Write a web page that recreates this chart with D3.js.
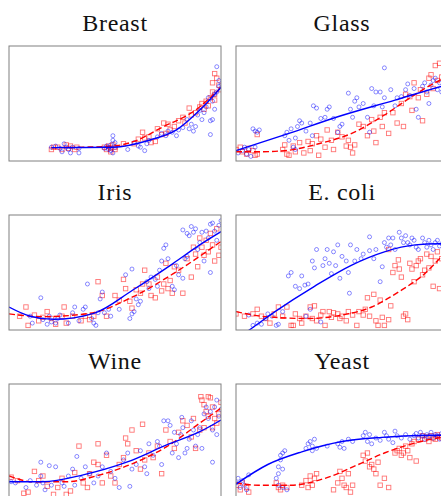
<!DOCTYPE html>
<html><head><meta charset="utf-8">
<script src="https://cdn.jsdelivr.net/npm/d3@7"></script>
<style>html,body{margin:0;padding:0;background:#fff;}svg{display:block;}</style>
</head><body>
<svg id="chart" width="441" height="496"></svg>
<script>
const titles = ["Breast", "Glass", "Iris", "E. coli", "Wine", "Yeast"];

const breastBlue = [[0.20,0.12],[0.22,0.13],[0.25,0.08],[0.26,0.15],[0.27,0.12],[0.28,0.10],[0.29,0.07],[0.30,0.12],[0.33,0.07],[0.33,0.11],[0.24,0.11],
[0.45,0.11],[0.46,0.13],[0.47,0.10],[0.48,0.14],[0.48,0.09],[0.49,0.18],[0.49,0.22],[0.50,0.12],[0.50,0.16],[0.49,0.07],[0.47,0.12],
[0.56,0.10],[0.59,0.16],[0.61,0.13],[0.62,0.12],[0.64,0.09],[0.65,0.15],[0.66,0.18],[0.70,0.21],[0.72,0.24],[0.74,0.22],[0.75,0.26],[0.77,0.25],[0.79,0.22],[0.80,0.27],[0.82,0.29],[0.84,0.36],[0.85,0.28],[0.86,0.32],[0.87,0.26],[0.88,0.30],[0.89,0.40],[0.90,0.44],[0.91,0.36],[0.92,0.42],[0.93,0.47],[0.94,0.55],[0.95,0.35],[0.96,0.52],[0.97,0.58],[0.98,0.60],[0.99,0.70],[0.99,0.65],[1.0,0.66],[0.97,0.45],[0.95,0.23],[0.98,0.82],[0.96,0.36]];
const breastRed = [[0.20,0.10],[0.21,0.12],[0.23,0.12],[0.27,0.14],[0.28,0.11],[0.29,0.13],[0.31,0.10],[0.32,0.12],[0.25,0.10],
[0.45,0.12],[0.46,0.10],[0.47,0.13],[0.48,0.11],[0.49,0.14],[0.50,0.12],[0.50,0.10],[0.48,0.08],
[0.54,0.15],[0.59,0.15],[0.61,0.19],[0.63,0.25],[0.64,0.20],[0.66,0.21],[0.67,0.16],[0.70,0.28],[0.72,0.23],[0.73,0.33],[0.75,0.32],[0.76,0.27],[0.78,0.30],[0.80,0.35],[0.82,0.38],[0.83,0.33],[0.85,0.46],[0.86,0.40],[0.88,0.42],[0.90,0.47],[0.91,0.50],[0.92,0.45],[0.93,0.52],[0.95,0.55],[0.96,0.60],[0.97,0.53],[0.98,0.72],[0.99,0.66],[1.0,0.62],[0.97,0.58],[0.94,0.48],[0.69,0.17],[0.74,0.24],[0.97,0.76],[0.96,0.68]];
const breastBlueFit = [[0.20,0.116],[0.35,0.118],[0.49,0.12],[0.665,0.183],[0.79,0.27],[0.90,0.443],[1.0,0.64]];
const breastRedFit = [[0.20,0.115],[0.35,0.12],[0.49,0.13],[0.586,0.168],[0.73,0.30],[0.87,0.43],[1.0,0.64]];

const glassBlue = [[0.01,0.07],[0.03,0.09],[0.05,0.06],[0.06,0.10],[0.07,0.04],[0.08,0.28],[0.09,0.26],[0.10,0.25],[0.11,0.27],[0.09,0.12],[0.04,0.12],
[0.23,0.22],[0.24,0.25],[0.25,0.18],[0.26,0.28],[0.27,0.12],[0.28,0.10],[0.29,0.30],[0.30,0.35],[0.31,0.33],[0.28,0.20],[0.33,0.26],[0.35,0.33],[0.36,0.22],[0.365,0.48],[0.38,0.46],[0.40,0.37],[0.42,0.38],[0.43,0.45],[0.44,0.47],[0.46,0.37],[0.48,0.25],[0.49,0.30],[0.50,0.32],[0.53,0.59],[0.54,0.45],[0.55,0.38],[0.56,0.52],[0.57,0.55],[0.58,0.47],[0.60,0.50],[0.62,0.38],[0.63,0.25],[0.64,0.63],[0.65,0.48],[0.66,0.60],[0.68,0.60],[0.69,0.47],[0.70,0.81],[0.70,0.55],[0.73,0.62],[0.75,0.48],[0.76,0.55],[0.78,0.56],[0.80,0.62],[0.81,0.67],[0.82,0.57],[0.84,0.63],[0.85,0.45],[0.86,0.38],[0.88,0.65],[0.89,0.68],[0.90,0.60],[0.91,0.50],[0.92,0.66],[0.93,0.70],[0.94,0.72],[0.95,0.62],[0.96,0.68],[0.97,0.60],[0.98,0.70],[0.99,0.66]];
const glassRed = [[0.0,0.10],[0.02,0.12],[0.03,0.08],[0.05,0.06],[0.06,0.11],[0.08,0.09],[0.09,0.05],[0.10,0.06],[0.10,0.23],
[0.22,0.10],[0.23,0.14],[0.24,0.06],[0.25,0.05],[0.27,0.13],[0.28,0.08],[0.30,0.16],[0.32,0.07],[0.34,0.17],[0.35,0.09],[0.36,0.15],[0.38,0.22],[0.39,0.05],[0.40,0.19],[0.42,0.12],[0.43,0.27],[0.45,0.18],[0.46,0.10],[0.48,0.25],[0.50,0.21],[0.52,0.13],[0.53,0.18],[0.54,0.12],[0.55,0.07],[0.56,0.14],[0.58,0.32],[0.60,0.30],[0.62,0.22],[0.64,0.36],[0.65,0.26],[0.66,0.16],[0.68,0.38],[0.69,0.30],[0.70,0.42],[0.72,0.24],[0.74,0.42],[0.76,0.33],[0.78,0.50],[0.79,0.30],[0.80,0.58],[0.82,0.56],[0.83,0.44],[0.84,0.68],[0.86,0.55],[0.87,0.62],[0.88,0.35],[0.90,0.58],[0.91,0.72],[0.92,0.75],[0.93,0.63],[0.94,0.83],[0.95,0.70],[0.96,0.85],[0.97,0.73],[0.98,0.80],[0.99,0.70]];
const glassBlueFit = [[0.0,0.09],[0.25,0.24],[0.48,0.385],[0.75,0.53],[0.97,0.65],[1.0,0.665]];
const glassRedFit = [[0.0,0.08],[0.105,0.08],[0.23,0.09],[0.39,0.15],[0.546,0.24],[0.70,0.40],[0.83,0.56],[0.96,0.70],[1.0,0.73]];

const irisBlue = [[0.10,0.12],[0.11,0.06],[0.15,0.28],[0.16,0.09],[0.18,0.05],[0.19,0.12],[0.20,0.07],[0.22,0.06],[0.23,0.10],[0.24,0.13],[0.28,0.06],[0.30,0.15],[0.31,0.20],[0.33,0.08],[0.35,0.18],[0.36,0.20],[0.37,0.40],[0.39,0.10],[0.40,0.06],[0.41,0.04],[0.42,0.15],[0.43,0.27],[0.44,0.33],[0.45,0.15],[0.47,0.18],[0.48,0.12],[0.52,0.18],[0.55,0.48],[0.57,0.10],[0.58,0.14],[0.59,0.16],[0.58,0.53],[0.60,0.27],[0.61,0.22],[0.62,0.25],[0.65,0.42],[0.66,0.36],[0.67,0.46],[0.69,0.44],[0.70,0.38],[0.71,0.52],[0.72,0.60],[0.73,0.71],[0.74,0.74],[0.75,0.62],[0.77,0.38],[0.78,0.35],[0.79,0.56],[0.80,0.48],[0.82,0.87],[0.84,0.84],[0.82,0.45],[0.83,0.62],[0.84,0.64],[0.85,0.82],[0.86,0.90],[0.87,0.85],[0.88,0.88],[0.89,0.70],[0.90,0.76],[0.92,0.60],[0.93,0.86],[0.94,0.80],[0.95,0.92],[0.96,0.93],[0.97,0.86],[0.98,0.78],[0.99,0.91],[1.0,0.95],[0.95,0.50],[0.91,0.85]];
const irisRed = [[0.05,0.12],[0.08,0.20],[0.09,0.04],[0.12,0.13],[0.14,0.08],[0.16,0.11],[0.18,0.16],[0.20,0.10],[0.22,0.05],[0.25,0.12],[0.26,0.20],[0.27,0.06],[0.30,0.12],[0.34,0.08],[0.36,0.12],[0.38,0.09],[0.40,0.12],[0.42,0.42],[0.44,0.30],[0.46,0.12],[0.50,0.30],[0.52,0.26],[0.54,0.44],[0.55,0.36],[0.57,0.25],[0.58,0.19],[0.60,0.35],[0.62,0.32],[0.63,0.40],[0.64,0.52],[0.66,0.40],[0.67,0.30],[0.69,0.28],[0.70,0.46],[0.72,0.34],[0.73,0.40],[0.74,0.58],[0.75,0.36],[0.76,0.43],[0.77,0.32],[0.78,0.55],[0.80,0.52],[0.82,0.32],[0.84,0.62],[0.86,0.46],[0.87,0.72],[0.88,0.66],[0.89,0.55],[0.90,0.80],[0.91,0.72],[0.92,0.65],[0.93,0.78],[0.94,0.68],[0.95,0.84],[0.96,0.74],[0.97,0.60],[0.98,0.88],[0.99,0.65],[1.0,0.72]];
const irisBlueFit = [[0.0,0.20],[0.10,0.12],[0.21,0.093],[0.40,0.145],[0.586,0.35],[0.775,0.58],[0.90,0.74],[1.0,0.855]];
const irisRedFit = [[0.0,0.14],[0.16,0.116],[0.38,0.145],[0.586,0.29],[0.775,0.49],[1.0,0.77]];

const ecoliBlue = [[0.06,0.13],[0.08,0.04],[0.10,0.06],[0.12,0.05],[0.14,0.10],[0.15,0.14],[0.17,0.12],[0.19,0.04],[0.20,0.05],[0.22,0.16],[0.247,0.47],[0.26,0.50],[0.28,0.38],[0.30,0.36],[0.31,0.47],[0.325,0.39],[0.33,0.12],[0.34,0.40],[0.35,0.18],[0.36,0.60],[0.37,0.54],[0.38,0.70],[0.40,0.07],[0.41,0.56],[0.43,0.70],[0.42,0.62],[0.44,0.58],[0.45,0.49],[0.46,0.68],[0.47,0.56],[0.48,0.74],[0.49,0.45],[0.50,0.64],[0.535,0.32],[0.52,0.60],[0.53,0.50],[0.54,0.74],[0.56,0.60],[0.57,0.70],[0.59,0.62],[0.60,0.66],[0.63,0.81],[0.63,0.69],[0.65,0.62],[0.66,0.70],[0.68,0.42],[0.69,0.55],[0.70,0.76],[0.71,0.72],[0.72,0.80],[0.73,0.74],[0.74,0.80],[0.75,0.70],[0.77,0.85],[0.78,0.80],[0.79,0.76],[0.80,0.82],[0.81,0.76],[0.82,0.74],[0.83,0.80],[0.84,0.78],[0.85,0.72],[0.86,0.70],[0.88,0.80],[0.89,0.76],[0.90,0.72],[0.91,0.78],[0.92,0.74],[0.93,0.70],[0.94,0.76],[0.95,0.78],[0.96,0.73],[0.97,0.75],[0.98,0.72],[0.99,0.77]];
const ecoliRed = [[0.0,0.14],[0.04,0.12],[0.08,0.14],[0.10,0.18],[0.12,0.12],[0.14,0.10],[0.16,0.06],[0.18,0.14],[0.20,0.20],[0.22,0.12],[0.24,0.20],[0.26,0.04],[0.27,0.04],[0.28,0.14],[0.30,0.10],[0.31,0.06],[0.33,0.12],[0.35,0.20],[0.36,0.10],[0.37,0.21],[0.38,0.08],[0.40,0.13],[0.41,0.16],[0.42,0.04],[0.44,0.16],[0.45,0.11],[0.46,0.15],[0.48,0.14],[0.49,0.10],[0.50,0.12],[0.52,0.08],[0.53,0.16],[0.55,0.13],[0.57,0.04],[0.58,0.16],[0.60,0.13],[0.61,0.18],[0.62,0.28],[0.63,0.12],[0.65,0.31],[0.66,0.08],[0.67,0.04],[0.68,0.26],[0.69,0.11],[0.70,0.04],[0.72,0.09],[0.72,0.70],[0.73,0.21],[0.74,0.50],[0.75,0.56],[0.766,0.61],[0.77,0.53],[0.78,0.46],[0.79,0.12],[0.80,0.14],[0.81,0.09],[0.82,0.58],[0.83,0.53],[0.84,0.42],[0.85,0.56],[0.86,0.60],[0.87,0.62],[0.88,0.48],[0.89,0.52],[0.90,0.66],[0.91,0.54],[0.92,0.64],[0.93,0.38],[0.94,0.60],[0.95,0.68],[0.96,0.36],[0.97,0.62],[0.98,0.70],[0.99,0.66]];
const ecoliBlueFit = [[0.0,-0.08],[0.055,-0.01],[0.184,0.16],[0.37,0.38],[0.546,0.565],[0.70,0.68],[0.845,0.74],[0.955,0.75],[1.0,0.748]];
const ecoliRedFit = [[0.0,0.16],[0.137,0.116],[0.34,0.10],[0.50,0.13],[0.64,0.20],[0.766,0.33],[0.89,0.49],[0.97,0.64],[1.0,0.70]];

const wineBlue = [[0.01,0.15],[0.03,0.14],[0.08,0.10],[0.10,0.16],[0.13,0.12],[0.15,0.32],[0.15,0.20],[0.16,0.14],[0.17,0.08],[0.19,0.29],[0.20,0.12],[0.22,0.28],[0.25,0.14],[0.26,0.11],[0.28,0.20],[0.30,0.26],[0.31,0.12],[0.32,0.37],[0.34,0.18],[0.36,0.28],[0.38,0.22],[0.40,0.14],[0.42,0.20],[0.44,0.28],[0.46,0.40],[0.48,0.24],[0.50,0.18],[0.52,0.10],[0.54,0.34],[0.56,0.40],[0.57,0.11],[0.58,0.26],[0.60,0.30],[0.62,0.42],[0.64,0.28],[0.65,0.22],[0.66,0.48],[0.68,0.38],[0.70,0.50],[0.71,0.46],[0.72,0.30],[0.73,0.68],[0.75,0.68],[0.76,0.64],[0.77,0.40],[0.78,0.58],[0.79,0.48],[0.80,0.36],[0.815,0.71],[0.81,0.56],[0.82,0.62],[0.83,0.40],[0.84,0.44],[0.85,0.52],[0.86,0.68],[0.87,0.60],[0.88,0.46],[0.89,0.56],[0.90,0.62],[0.91,0.44],[0.92,0.74],[0.93,0.80],[0.94,0.70],[0.95,0.76],[0.96,0.60],[0.97,0.80],[0.98,0.86],[0.99,0.72],[1.0,0.78],[0.98,0.56],[0.96,0.32]];
const wineRed = [[0.01,0.19],[0.04,0.16],[0.07,0.05],[0.09,0.06],[0.12,0.24],[0.14,0.16],[0.16,0.20],[0.18,0.11],[0.21,0.04],[0.23,0.10],[0.25,0.18],[0.27,0.04],[0.29,0.07],[0.31,0.23],[0.33,0.46],[0.35,0.14],[0.37,0.10],[0.38,0.22],[0.40,0.32],[0.42,0.48],[0.42,0.30],[0.44,0.14],[0.46,0.38],[0.48,0.20],[0.50,0.14],[0.52,0.30],[0.54,0.36],[0.55,0.53],[0.56,0.48],[0.58,0.60],[0.60,0.42],[0.62,0.26],[0.63,0.65],[0.64,0.34],[0.66,0.40],[0.68,0.36],[0.70,0.46],[0.72,0.22],[0.74,0.60],[0.76,0.50],[0.78,0.44],[0.80,0.58],[0.82,0.68],[0.84,0.64],[0.86,0.54],[0.87,0.70],[0.88,0.44],[0.90,0.60],[0.905,0.89],[0.91,0.86],[0.92,0.82],[0.93,0.76],[0.94,0.89],[0.94,0.72],[0.95,0.88],[0.96,0.80],[0.97,0.70],[0.98,0.66],[0.99,0.74],[1.0,0.84],[0.96,0.62],[0.92,0.62]];
const wineBlueFit = [[0.0,0.15],[0.16,0.15],[0.35,0.21],[0.555,0.32],[0.744,0.47],[0.90,0.585],[1.0,0.687]];
const wineRedFit = [[0.0,0.20],[0.115,0.15],[0.27,0.15],[0.43,0.21],[0.586,0.31],[0.744,0.455],[0.90,0.66],[1.0,0.79]];

const yeastBlue = [[0.0,0.14],[0.01,0.18],[0.02,0.10],[0.03,0.16],[0.04,0.12],[0.05,0.08],[0.06,0.21],
[0.19,0.18],[0.20,0.28],[0.20,0.22],[0.21,0.34],[0.21,0.38],[0.22,0.40],[0.22,0.26],[0.23,0.42],[0.20,0.12],[0.22,0.10],[0.24,0.08],
[0.33,0.44],[0.34,0.48],[0.35,0.50],[0.36,0.46],[0.37,0.52],[0.38,0.44],[0.36,0.42],[0.43,0.46],
[0.48,0.48],[0.49,0.45],[0.50,0.50],[0.51,0.44],[0.53,0.52],[0.55,0.50],
[0.60,0.55],[0.61,0.58],[0.62,0.50],[0.63,0.56],[0.64,0.48],[0.66,0.53],[0.68,0.51],[0.70,0.58],[0.71,0.55],[0.72,0.52],[0.74,0.49],[0.75,0.59],[0.76,0.55],[0.78,0.53],[0.80,0.56],[0.82,0.52],[0.84,0.55],[0.85,0.57],[0.86,0.53],[0.87,0.58],[0.88,0.55],[0.89,0.52],[0.90,0.56],[0.91,0.54],[0.92,0.58],[0.93,0.53],[0.94,0.56],[0.95,0.55],[0.96,0.52],[0.97,0.57],[0.98,0.54],[0.99,0.56]];
const yeastRed = [[0.0,0.12],[0.02,0.08],[0.03,0.14],[0.05,0.10],[0.06,0.06],
[0.19,0.14],[0.20,0.10],[0.21,0.08],[0.22,0.12],[0.24,0.10],
[0.31,0.12],[0.33,0.16],[0.35,0.20],[0.36,0.12],[0.37,0.18],[0.38,0.22],[0.34,0.10],
[0.46,0.08],[0.48,0.14],[0.49,0.24],[0.50,0.18],[0.51,0.12],[0.52,0.10],[0.53,0.22],[0.54,0.06],[0.55,0.12],
[0.60,0.38],[0.61,0.33],[0.62,0.40],[0.63,0.28],[0.64,0.30],[0.65,0.26],[0.66,0.22],[0.67,0.32],[0.68,0.12],[0.70,0.18],[0.72,0.10],
[0.75,0.40],[0.76,0.42],[0.77,0.44],[0.78,0.38],[0.79,0.40],[0.80,0.46],[0.81,0.42],[0.82,0.36],[0.83,0.48],[0.84,0.50],[0.85,0.33],[0.86,0.52],[0.88,0.55],[0.89,0.52],[0.90,0.54],[0.91,0.50],[0.92,0.55],[0.93,0.53],[0.94,0.52],[0.95,0.56],[0.96,0.54],[0.97,0.53],[0.98,0.55],[0.99,0.54]];
const yeastBlueFit = [[0.0,0.13],[0.15,0.30],[0.31,0.41],[0.50,0.50],[0.687,0.536],[0.83,0.55],[0.97,0.555],[1.0,0.556]];
const yeastRedFit = [[0.0,0.14],[0.105,0.12],[0.26,0.12],[0.42,0.18],[0.577,0.30],[0.70,0.40],[0.83,0.48],[0.97,0.536],[1.0,0.545]];

const panels = [
  {title: titles[0], blue: breastBlue, red: breastRed, bfit: breastBlueFit, rfit: breastRedFit},
  {title: titles[1], blue: glassBlue, red: glassRed, bfit: glassBlueFit, rfit: glassRedFit},
  {title: titles[2], blue: irisBlue, red: irisRed, bfit: irisBlueFit, rfit: irisRedFit},
  {title: titles[3], blue: ecoliBlue, red: ecoliRed, bfit: ecoliBlueFit, rfit: ecoliRedFit},
  {title: titles[4], blue: wineBlue, red: wineRed, bfit: wineBlueFit, rfit: wineRedFit},
  {title: titles[5], blue: yeastBlue, red: yeastRed, bfit: yeastBlueFit, rfit: yeastRedFit}
];

const svg = d3.select("#chart");
const colX = [9, 236], rowY = [46, 215, 384];
const W = 212, H = 115;
const x = d3.scaleLinear().domain([0, 1]).range([0, W]);
const y = d3.scaleLinear().domain([0, 1]).range([H, 0]);
const line = d3.line().x(d => x(d[0])).y(d => y(d[1])).curve(d3.curveMonotoneX);

panels.forEach((p, i) => {
  const gx = colX[i % 2], gy = rowY[Math.floor(i / 2)];
  const g = svg.append("g").attr("transform", `translate(${gx},${gy})`);
  const cid = "clip" + i;
  g.append("clipPath").attr("id", cid).append("rect").attr("x", 0).attr("y", 0).attr("width", W).attr("height", H);

  g.append("text").attr("x", W / 2).attr("y", -15).attr("text-anchor", "middle")
    .attr("font-family", "'Liberation Serif', 'Times New Roman', serif").attr("font-size", 24)
    .attr("letter-spacing", 0.7)
    .attr("fill", "#111").text(p.title);

  const inner = g.append("g").attr("clip-path", `url(#${cid})`);
  inner.selectAll("rect.sq").data(p.red).join("rect").attr("class", "sq")
    .attr("x", d => x(d[0]) - 2.2).attr("y", d => y(d[1]) - 2.2).attr("width", 4.4).attr("height", 4.4)
    .attr("fill", "none").attr("stroke", "#ff0000").attr("stroke-opacity", 0.55).attr("stroke-width", 0.9);
  inner.selectAll("circle").data(p.blue).join("circle")
    .attr("cx", d => x(d[0])).attr("cy", d => y(d[1])).attr("r", 2)
    .attr("fill", "none").attr("stroke", "#0000ff").attr("stroke-opacity", 0.5).attr("stroke-width", 0.9);
  inner.append("path").datum(p.rfit).attr("d", line).attr("fill", "none")
    .attr("stroke", "#ff0000").attr("stroke-width", 1.4).attr("stroke-dasharray", "6,3");
  inner.append("path").datum(p.bfit).attr("d", line).attr("fill", "none")
    .attr("stroke", "#0000ff").attr("stroke-width", 1.4);

  g.append("rect").attr("x", 0).attr("y", 0).attr("width", W).attr("height", H)
    .attr("fill", "none").attr("stroke", "#808080").attr("stroke-width", 1);
});
</script>
</body></html>
